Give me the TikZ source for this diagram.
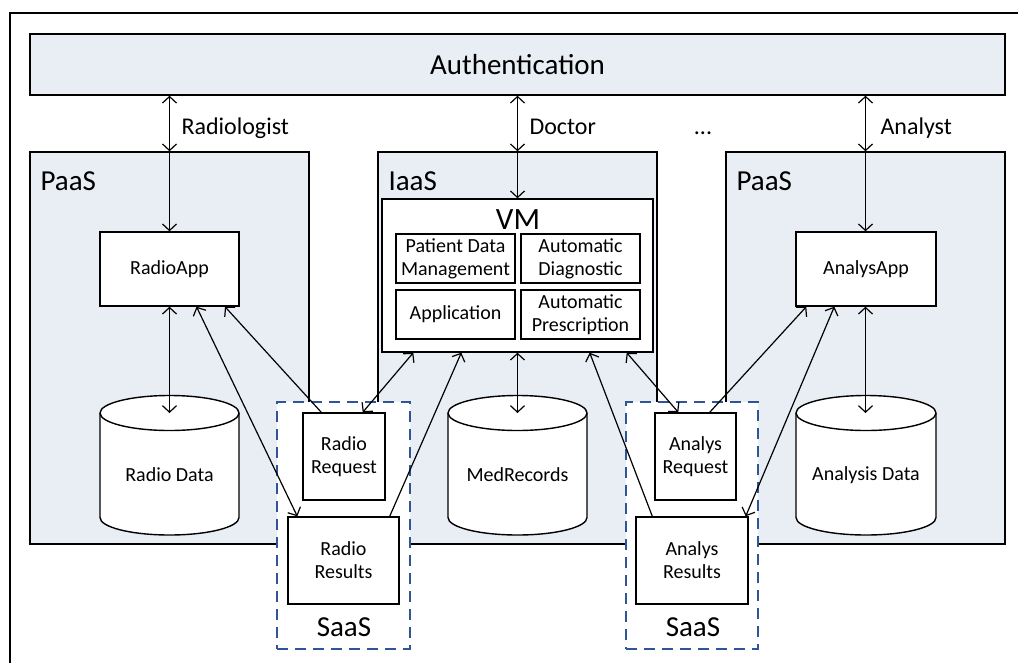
\documentclass[tikz,border=0pt]{standalone}
\usepackage{fontspec}
\setmainfont{Carlito}
\usetikzlibrary{arrows.meta}
\definecolor{boxfill}{HTML}{E9EDF4}
\definecolor{saasblue}{HTML}{2F5597}
\begin{document}
\begin{tikzpicture}[x=1pt,y=1pt,
  >={Straight Barb[length=6.5pt,width=14pt]},
  region/.style={draw,line width=1.4pt,fill=boxfill,inner sep=0pt},
  wbox/.style={draw,line width=1.4pt,fill=white,inner sep=0pt,align=center,font=\fontsize{20}{23}\selectfont},
  saas/.style={draw=saasblue,line width=1.4pt,dash pattern=on 11pt off 7pt,fill=white,inner sep=0pt},
  conn/.style={line width=1.2pt},
  big/.style={font=\fontsize{29}{33}\selectfont},
  mid/.style={font=\fontsize{24}{28}\selectfont},
  small/.style={font=\fontsize{20}{23}\selectfont,align=center},
  cyl/.style={draw,line width=1.4pt,fill=white}
]
\useasboundingbox (0,0) rectangle (1018,-662);
\fill[white] (0,0) rectangle (1018,-662);
% outer frame (extends beyond the picture on the right and bottom)
\draw[line width=1.4pt] (10,-670) -- (10,-13) -- (1030,-13);

% authentication
\node[region,minimum width=975pt,minimum height=61pt,big] (auth) at (517.5,-64.5) {Authentication};

% service regions
\node[region,minimum width=279pt,minimum height=392pt] (paasL) at (169.5,-348) {};
\node[region,minimum width=279pt,minimum height=392pt] (iaas) at (517.5,-348) {};
\node[region,minimum width=279pt,minimum height=392pt] (paasR) at (865.5,-348) {};
\node[big,anchor=west] (lpaasL) at (37,-181) {PaaS};
\node[big,anchor=west] (liaas) at (385,-181) {IaaS};
\node[big,anchor=west] (lpaasR) at (733,-181) {PaaS};

% VM
\node[wbox,minimum width=271pt,minimum height=153pt] (vm) at (517.5,-275.5) {};
\node[font=\fontsize{31}{35}\selectfont] (lvm) at (518,-220) {VM};
\node[wbox,minimum width=119pt,minimum height=49pt] (pdm) at (455.5,-258.5) {Patient Data\\Management};
\node[wbox,minimum width=119pt,minimum height=49pt] (ad) at (580.5,-258.5) {Automatic\\Diagnostic};
\node[wbox,minimum width=119pt,minimum height=49pt] (app) at (455.5,-314.5) {Application};
\node[wbox,minimum width=119pt,minimum height=49pt] (ap) at (580.5,-314.5) {Automatic\\Prescription};

% apps
\node[wbox,minimum width=139pt,minimum height=74pt] (radioapp) at (169.5,-269) {RadioApp};
\node[wbox,minimum width=140pt,minimum height=74pt] (analysapp) at (866,-269) {AnalysApp};

% databases
\draw[cyl] (100,-413) -- (100,-517.5) arc[start angle=180,end angle=360,x radius=69.5,y radius=17.5] -- (239,-413) arc[start angle=0,end angle=180,x radius=69.5,y radius=17.5] -- cycle;
\draw[line width=1.4pt] (100,-413) arc[start angle=180,end angle=360,x radius=69.5,y radius=17.5];
\node[small] (rdata) at (169.5,-475) {Radio Data};
\coordinate (rdtop) at (169.5,-413);

\draw[cyl] (448,-413) -- (448,-517.5) arc[start angle=180,end angle=360,x radius=69.5,y radius=17.5] -- (587,-413) arc[start angle=0,end angle=180,x radius=69.5,y radius=17.5] -- cycle;
\draw[line width=1.4pt] (448,-413) arc[start angle=180,end angle=360,x radius=69.5,y radius=17.5];
\node[small] (mrec) at (517.5,-475) {MedRecords};
\coordinate (mrtop) at (517.5,-413);

\draw[cyl] (796,-413) -- (796,-517.5) arc[start angle=180,end angle=360,x radius=70,y radius=17.5] -- (936,-413) arc[start angle=0,end angle=180,x radius=70,y radius=17.5] -- cycle;
\draw[line width=1.4pt] (796,-413) arc[start angle=180,end angle=360,x radius=70,y radius=17.5];
\node[small] (adata) at (866,-475) {Analysis Data};
\coordinate (adtop) at (865.5,-413);

% SaaS
\node[saas,minimum width=133pt,minimum height=247pt] (saasL) at (343.5,-525.5) {};
\node[saas,minimum width=132pt,minimum height=247pt] (saasR) at (692,-525.5) {};
\node[big] (lsaasL) at (344,-627) {SaaS};
\node[big] (lsaasR) at (693,-627) {SaaS};
\node[wbox,minimum width=82pt,minimum height=87pt] (rreq) at (344,-456.5) {Radio\\Request};
\node[wbox,minimum width=111pt,minimum height=87pt] (rres) at (343.5,-560.5) {Radio\\Results};
\node[wbox,minimum width=81pt,minimum height=87pt] (areq) at (695.5,-456.5) {Analys\\Request};
\node[wbox,minimum width=112pt,minimum height=87pt] (ares) at (692,-560.5) {Analys\\Results};

% user connectors
\draw[conn,<->] (auth.south -| paasL.north) -- (paasL.north);
\node[mid,anchor=base west] (lrad) at (178,-134) {Radiologist};
\draw[conn,->] (paasL.north) -- (radioapp.north);
\draw[conn,<->] (auth.south -| iaas.north) -- (iaas.north);
\node[mid,anchor=base west] (ldoc) at (526,-134) {Doctor};
\draw[conn,->] (iaas.north) -- (vm.north);
\draw[conn,<->] (auth.south -| paasR.north) -- (paasR.north);
\node[mid,anchor=base west] (lana) at (877,-134) {Analyst};
\draw[conn,->] (paasR.north) -- (analysapp.north -| paasR.north);
\node[mid,anchor=base] (dots) at (703,-134) {...};

% data connectors
\draw[conn,<->] (radioapp.south) -- (rdtop);
\draw[conn,<->] (vm.south) -- (mrtop);
\draw[conn,<->] (analysapp.south -| adtop) -- (adtop);

% radiology flows
\draw[conn,<->] ([xshift=27pt]radioapp.south) -- ([xshift=10pt]rres.north west);
\draw[conn,->] ([xshift=19pt]rreq.north west) -- ([xshift=55.5pt]radioapp.south);
\draw[conn,<->] ([xshift=-23pt]rreq.north east) -- ([xshift=32pt]vm.south west);
\draw[conn,->] ([xshift=-10pt]rres.north east) -- ([xshift=80pt]vm.south west);

% analysis flows
\draw[conn,->] ([xshift=17pt]ares.north west) -- ([xshift=-64pt]vm.south east);
\draw[conn,<->] ([xshift=-27pt]vm.south east) -- ([xshift=24pt]areq.north west);
\draw[conn,->] ([xshift=-27pt]areq.north east) -- ([xshift=11pt]analysapp.south west);
\draw[conn,<->] ([xshift=39pt]analysapp.south west) -- ([xshift=-3pt]ares.north east);
\end{tikzpicture}
\end{document}
